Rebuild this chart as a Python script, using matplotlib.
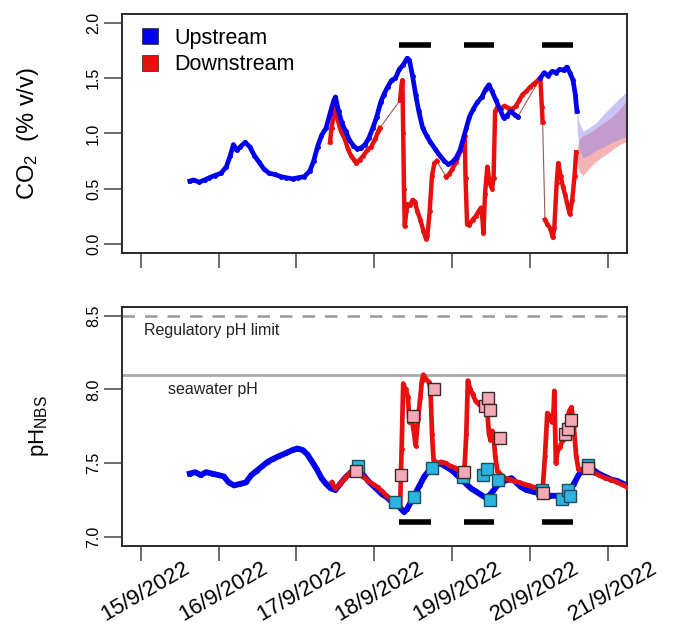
import numpy as np
import matplotlib
matplotlib.use('Agg')
import matplotlib.pyplot as plt
import matplotlib.transforms as mtransforms

plt.rcParams['font.family'] = ['Liberation Sans', 'DejaVu Sans']
plt.rcParams['mathtext.fontset'] = 'custom'
plt.rcParams['mathtext.rm'] = 'Liberation Sans'
plt.rcParams['mathtext.it'] = 'Liberation Sans'

nan = np.nan

# CO2 upstream (day of September 2022, % v/v)
up_co2_t = [15.63, 15.68, 15.75, 15.82, 15.88, 15.95, 16.03, 16.10, 16.15, 16.19, 16.23, 16.28,
            16.34, 16.40, 16.46, 16.52, 16.58, 16.65, 16.72, 16.80, 16.87, 16.95, 17.02, 17.10,
            17.17, 17.22, 17.27, 17.32, 17.38, 17.43, 17.48, 17.50, 17.54, 17.58, 17.63, 17.68,
            17.73, 17.78, 17.83, 17.88, 17.93, 17.98, 18.03, 18.08, 18.12, 18.17, 18.22, 18.27,
            18.32, 18.37, 18.42, 18.45, 18.49, 18.53, 18.57, 18.62, 18.67, 18.72, 18.78, 18.84,
            18.90, 18.95, 19.00, 19.05, 19.10, 19.14, 19.18, 19.22, 19.27, 19.32, 19.38, 19.43,
            19.47, 19.51, 19.56, 19.61, 19.66, 19.70, 19.75, 19.80, 19.84, 19.86,
            20.13, 20.18, 20.23, 20.28, 20.33, 20.38, 20.43, 20.47, 20.51, 20.55, 20.58, 20.60]
up_co2 = [0.57, 0.58, 0.56, 0.58, 0.60, 0.62, 0.64, 0.70, 0.80, 0.90, 0.85, 0.88,
          0.92, 0.88, 0.80, 0.74, 0.68, 0.64, 0.63, 0.61, 0.60, 0.59, 0.60, 0.61,
          0.66, 0.75, 0.88, 0.98, 1.05, 1.18, 1.30, 1.33, 1.20, 1.10, 1.02, 0.94,
          0.89, 0.86, 0.87, 0.90, 0.96, 1.05, 1.15, 1.28, 1.35, 1.42, 1.48, 1.50,
          1.58, 1.62, 1.68, 1.66, 1.52, 1.35, 1.20, 1.05, 0.98, 0.92, 0.86, 0.80,
          0.75, 0.72, 0.74, 0.78, 0.85, 0.95, 1.05, 1.15, 1.22, 1.28, 1.33, 1.40,
          1.44, 1.38, 1.30, 1.22, 1.14, 1.16, 1.20, 1.17, 1.15, nan,
          1.50, 1.55, 1.52, 1.56, 1.55, 1.58, 1.57, 1.60, 1.55, 1.48, 1.35, 1.20]

# CO2 downstream
dn_co2_t = [17.43, 17.45, 17.48, 17.50, 17.53, 17.57, 17.62, 17.66, 17.70, 17.74, 17.77, 17.81,
            17.86, 17.91, 17.96, 18.01, 18.05, 18.07, 18.20, 18.33, 18.35, 18.36, 18.37, 18.38,
            18.39, 18.41, 18.43, 18.46, 18.49, 18.52, 18.55, 18.59, 18.63, 18.66, 18.68, 18.71,
            18.74, 18.77, 18.80, 18.86, 18.92, 18.96, 19.00, 19.05, 19.10, 19.14, 19.16, 19.17,
            19.19, 19.22, 19.26, 19.30, 19.34, 19.37, 19.39, 19.40, 19.42, 19.45, 19.48, 19.51,
            19.53, 19.55, 19.58, 19.62, 19.67, 19.72, 19.77, 19.82, 19.86, 19.90, 19.95, 20.00,
            20.05, 20.10, 20.13, 20.15, 20.16, 20.17, 20.19, 20.22, 20.26, 20.29, 20.31, 20.34,
            20.36, 20.39, 20.42, 20.45, 20.48, 20.51, 20.54, 20.57, 20.59]
dn_co2 = [0.92, 1.05, 1.18, 1.24, 1.12, 1.02, 0.95, 0.86, 0.80, 0.76, 0.73, 0.76,
          0.80, 0.85, 0.88, 0.95, 1.02, 1.05, nan, 1.30, 1.45, 1.48, 1.00, 0.50,
          0.16, 0.30, 0.36, 0.35, 0.40, 0.38, 0.30, 0.22, 0.12, 0.05, 0.07, 0.30,
          0.62, 0.73, 0.75, nan, 0.61, 0.63, 0.68, 0.74, 0.84, 0.92, 0.98, 0.60,
          0.18, 0.17, 0.22, 0.25, 0.30, 0.33, 0.20, 0.10, 0.45, 0.70, 0.55, 0.50,
          0.60, 1.20, 1.24, 1.22, 1.25, 1.23, 1.22, 1.25, 1.30, 1.35, 1.38, 1.42,
          1.45, 1.48, 1.50, 1.24, 1.10, nan, 0.22, 0.18, 0.14, 0.06, 0.15, 0.55,
          0.73, 0.62, 0.52, 0.44, 0.35, 0.27, 0.40, 0.62, 0.83]

# model / uncertainty bands at the end of the record
band_t = [20.60, 20.63, 20.68, 20.75, 20.85, 20.95, 21.05, 21.15, 21.24]
up_band_lo = [1.05, 0.85, 0.78, 0.80, 0.85, 0.88, 0.92, 0.95, 0.97]
up_band_hi = [1.20, 1.10, 1.02, 1.05, 1.10, 1.18, 1.25, 1.32, 1.38]
dn_band_lo = [0.75, 0.65, 0.62, 0.68, 0.75, 0.80, 0.85, 0.90, 0.93]
dn_band_hi = [0.85, 0.95, 0.98, 1.00, 1.05, 1.10, 1.15, 1.22, 1.30]

# pH upstream
up_ph_t = [15.63, 15.70, 15.77, 15.84, 15.92, 16.00, 16.07, 16.13, 16.20, 16.27, 16.35, 16.42,
           16.49, 16.56, 16.63, 16.70, 16.78, 16.87, 16.95, 17.01, 17.08, 17.14, 17.20, 17.26,
           17.32, 17.38, 17.44, 17.50, 17.56, 17.62, 17.68, 17.74, 17.80, 17.86, 17.92, 17.98,
           18.04, 18.10, 18.16, 18.22, 18.28, 18.33, 18.38, 18.42, 18.47, 18.52, 18.58, 18.64,
           18.70, 18.76, 18.82, 18.88, 18.94, 19.00, 19.06, 19.12, 19.18, 19.24, 19.30, 19.36,
           19.42, 19.47, 19.52, 19.58, 19.64, 19.70, 19.76, 19.82, 19.88, 19.95, 20.02, 20.10,
           20.18, 20.26, 20.34, 20.42, 20.50, 20.56, 20.62, 20.68, 20.74, 20.80, 20.88, 20.96,
           21.04, 21.12, 21.20, 21.24]
up_ph = [7.43, 7.44, 7.42, 7.44, 7.43, 7.42, 7.41, 7.37, 7.35, 7.36, 7.37, 7.42,
         7.45, 7.48, 7.51, 7.53, 7.55, 7.57, 7.59, 7.60, 7.59, 7.56, 7.51, 7.46,
         7.40, 7.36, 7.33, 7.32, 7.36, 7.40, 7.43, 7.46, 7.45, 7.42, 7.38, 7.35,
         7.32, 7.29, 7.27, 7.24, 7.22, 7.20, 7.17, 7.19, 7.24, 7.29, 7.35, 7.41,
         7.45, 7.48, 7.50, 7.49, 7.47, 7.45, 7.42, 7.39, 7.36, 7.33, 7.31, 7.29,
         7.27, 7.28, 7.31, 7.35, 7.37, 7.39, 7.40, 7.37, 7.34, 7.32, 7.31, 7.30,
         7.29, 7.28, 7.28, 7.28, 7.31, 7.36, 7.42, 7.46, 7.48, 7.46, 7.43, 7.41,
         7.39, 7.38, 7.36, 7.35]

# pH downstream
dn_ph_t = [17.45, 17.50, 17.56, 17.62, 17.68, 17.74, 17.80, 17.86, 17.92, 17.98, 18.04, 18.10,
           18.16, 18.22, 18.28, 18.33, 18.35, 18.37, 18.40, 18.43, 18.45, 18.48, 18.51, 18.53,
           18.56, 18.59, 18.61, 18.63, 18.66, 18.70, 18.72, 18.74, 18.76, 18.80, 18.86, 18.92,
           18.98, 19.04, 19.10, 19.15, 19.18, 19.20, 19.23, 19.26, 19.30, 19.34, 19.38, 19.42,
           19.45, 19.47, 19.49, 19.51, 19.53, 19.55, 19.58, 19.63, 19.68, 19.74, 19.80, 19.86,
           19.92, 19.98, 20.04, 20.10, 20.16, 20.19, 20.22, 20.25, 20.28, 20.30, 20.31, 20.33,
           20.35, 20.38, 20.42, 20.46, 20.50, 20.53, 20.56, 20.59, 20.62, 20.68, 20.74, 20.80,
           20.88, 20.96, 21.04, 21.12, 21.20, 21.24]
dn_ph = [7.37, 7.33, 7.36, 7.40, 7.43, 7.45, 7.44, 7.41, 7.38, 7.36, 7.34, 7.31,
         7.28, 7.25, 7.23, 7.21, 7.60, 8.04, 8.00, 7.95, 7.78, 7.80, 7.70, 7.62,
         7.80, 7.95, 8.06, 8.10, 8.07, 8.05, 8.00, 7.70, 7.52, 7.50, 7.51, 7.50,
         7.48, 7.47, 7.44, 7.40, 7.70, 8.06, 8.00, 7.97, 7.92, 7.90, 7.88, 7.86,
         7.85, 7.70, 7.66, 7.72, 7.70, 7.55, 7.45, 7.42, 7.40, 7.39, 7.38, 7.37,
         7.36, 7.35, 7.34, 7.33, 7.32, 7.55, 7.84, 7.82, 7.78, 7.85, 7.99, 7.50,
         7.58, 7.61, 7.66, 7.74, 7.85, 7.88, 7.75, 7.55, 7.46, 7.45, 7.46, 7.44,
         7.42, 7.40, 7.39, 7.37, 7.35, 7.34]

# discrete pH samples
up_samp_t = [17.79, 18.26, 18.51, 18.74, 19.14, 19.39, 19.45, 19.59, 19.49, 20.15, 20.41, 20.48, 20.51, 20.74]
up_samp = [7.48, 7.24, 7.27, 7.47, 7.41, 7.42, 7.46, 7.39, 7.25, 7.32, 7.26, 7.32, 7.28, 7.49]
dn_samp_t = [17.76, 18.34, 18.50, 18.76, 19.15, 19.42, 19.46, 19.49, 19.61, 20.16, 20.45, 20.49, 20.52, 20.74]
dn_samp = [7.45, 7.42, 7.82, 8.00, 7.44, 7.89, 7.94, 7.86, 7.67, 7.30, 7.70, 7.73, 7.79, 7.47]

# dosing periods
dose_start = [18.32, 19.15, 20.15]
dose_end = [18.73, 19.53, 20.55]

days = [15, 16, 17, 18, 19, 20, 21]
day_labels = ['15/9/2022', '16/9/2022', '17/9/2022', '18/9/2022', '19/9/2022', '20/9/2022', '21/9/2022']

BLUE = '#0000f0'
RED = '#e8100f'


def draw_series(ax, t, v, col, lw=3.6):
    t = np.array(t)
    v = np.array(v, dtype=float)
    ok = ~np.isnan(v)
    ax.plot(t[ok], v[ok], '-', color='#9b5a50', lw=0.8, zorder=2)
    ax.plot(t, v, '-', color=col, lw=lw, zorder=3, solid_joinstyle='round')
    ax.plot(t, v, 'o', color=col, ms=2.5, zorder=3)


def style_axes(ax):
    for s in ax.spines.values():
        s.set_linewidth(1.4)
        s.set_color('#2a2a2a')
    ax.tick_params(direction='out', length=13, width=1.1, color='#444444', pad=2)
    ax.tick_params(axis='x', length=11, pad=0)
    ax.tick_params(axis='y', labelsize=11.5)
    for lab in ax.get_yticklabels():
        lab.set_rotation(90)
        lab.set_va('center')
    ax.set_xlim(14.76, 21.24)
    ax.set_xticks(days)


fig = plt.figure(figsize=(6.73, 6.34), dpi=100)
ax1 = fig.add_axes([0.1813, 0.601, 0.750, 0.377])
ax2 = fig.add_axes([0.1813, 0.1388, 0.750, 0.3774])

# ---- CO2 panel
ax1.fill_between(band_t, dn_band_lo, dn_band_hi, color='#f08a90', alpha=0.65, lw=0, zorder=2)
ax1.fill_between(band_t, up_band_lo, up_band_hi, color='#8a80e8', alpha=0.45, lw=0, zorder=2)
draw_series(ax1, dn_co2_t, dn_co2, RED, lw=3.2)
draw_series(ax1, up_co2_t, up_co2, BLUE, lw=3.4)
for a, b in zip(dose_start, dose_end):
    ax1.plot([a, b], [1.80, 1.80], color='black', lw=4, solid_capstyle='butt', zorder=4)
ax1.set_ylim(-0.08, 2.08)
ax1.set_yticks([0.0, 0.5, 1.0, 1.5, 2.0])
ax1.set_xticklabels([])
ax1.set_ylabel('CO$_2$  (% v/v)', fontsize=17)
ax1.yaxis.set_label_coords(-0.16, 0.5)
style_axes(ax1)
h1, = ax1.plot([], [], 's', color=BLUE, mec='#222222', mew=0.5, ms=12)
h2, = ax1.plot([], [], 's', color=RED, mec='#222222', mew=0.5, ms=12)
ax1.legend([h1, h2], ['Upstream', 'Downstream'], loc='upper left', frameon=False,
           fontsize=15.5, handlelength=1.0, handletextpad=0.6, labelspacing=0.25,
           borderaxespad=0.3, bbox_to_anchor=(0.005, 1.005))

# ---- pH panel
ax2.axhline(8.5, color='#9a9a9a', lw=1.8, ls=(0, (5, 4)), zorder=1)
ax2.axhline(8.1, color='#aaaaaa', lw=2.0, zorder=1)
ax2.text(15.04, 8.40, 'Regulatory pH limit', fontsize=11.5, va='center', ha='left', color='#222222')
ax2.text(15.35, 8.00, 'seawater pH', fontsize=11.5, va='center', ha='left', color='#222222')
draw_series(ax2, up_ph_t, up_ph, BLUE, lw=4.2)
draw_series(ax2, dn_ph_t, dn_ph, RED, lw=3.4)
ax2.plot(up_samp_t, up_samp, 's', color='#2ab4df', mec='#1d4e5e', mew=1.0, ms=8, zorder=5)
ax2.plot(dn_samp_t, dn_samp, 's', color='#f4aab6', mec='#3a2a2a', mew=1.0, ms=8, zorder=5)
for a, b in zip(dose_start, dose_end):
    ax2.plot([a, b], [7.10, 7.10], color='black', lw=4, solid_capstyle='butt', zorder=4)
ax2.set_ylim(6.94, 8.56)
ax2.set_yticks([7.0, 7.5, 8.0, 8.5])
ax2.set_ylabel('pH$_{\\mathrm{NBS}}$', fontsize=16)
ax2.yaxis.set_label_coords(-0.14, 0.5)
style_axes(ax2)
ax2.set_xticklabels(day_labels, rotation=30, ha='center', fontsize=16)
shift = mtransforms.ScaledTranslation(5 / 100, 4 / 100, fig.dpi_scale_trans)
for lab in ax2.get_xticklabels():
    lab.set_transform(lab.get_transform() + shift)

fig.savefig('out.png', dpi=100)
